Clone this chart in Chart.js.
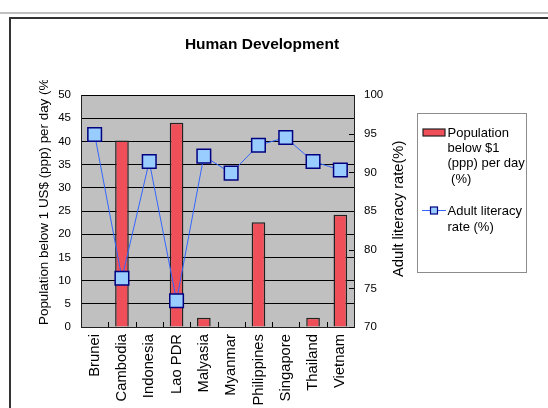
<!DOCTYPE html>
<html>
<head>
<meta charset="utf-8">
<script src="https://cdn.jsdelivr.net/npm/chart.js@4/dist/chart.umd.min.js"></script>
<style>
  html, body { margin: 0; padding: 0; background: #fff; }
  #wrap { position: relative; width: 548px; height: 408px; overflow: hidden; }
  #rule { position: absolute; left: 0; top: 12px; width: 548px; height: 2px; background: #c0c0c0; }
  #frame { position: absolute; left: 9px; top: 17px; width: 620px; height: 520px;
           border-left: 2px solid #333; border-top: 2px solid #333; }
  canvas { position: absolute; left: 0; top: 0; }
</style>
</head>
<body>
<div id="wrap">
  <div id="rule"></div>
  <div id="frame"></div>
  <canvas id="chart" width="548" height="408"></canvas>
</div>
<script>
// ASEAN countries
const countries = ['Brunei', 'Cambodia', 'Indonesia', 'Lao PDR', 'Malyasia',
                   'Myanmar', 'Philippines', 'Singapore', 'Thailand', 'Vietnam'];

// Population below $1 (ppp) per day, % (blank where not reported)
const povertyPct = [null, 40.2, null, 44.0, 2.0, null, 22.6, null, 2.0, 24.2];

// Adult literacy rate, %
const literacyPct = [94.9, 76.3, 91.4, 73.4, 92.1, 89.9, 93.5, 94.5, 91.4, 90.3];

// Axis ranges and tick steps
const leftTicks = { min: 0, max: 50, step: 5 };
const rightTicks = { min: 70, max: 100, step: 5 };

// Texts
const chartTitle = 'Human Development';
const povertyLabel = 'Population below $1 (ppp) per day (%)';
const literacyLabel = 'Adult literacy rate (%)';
const povertyLegendLines = ['Population', 'below $1', '(ppp) per day', ' (%)'];
const literacyLegendLines = ['Adult literacy', 'rate (%)'];
const leftAxisTitle = 'Population below 1 US$ (ppp) per day (%)';
const rightAxisTitle = 'Adult literacy rate(%)';

const FONT = "'Liberation Sans', Arial, sans-serif";
const BAR_RED = '#ef4f59';
const LINE_BLUE = '#3366ff';
const MARK_FILL = '#99ccff';
const MARK_EDGE = '#000080';

// Grey plotting surface behind the grid
const plotBackground = {
  id: 'plotBackground',
  beforeDraw(chart) {
    const { ctx, chartArea: a } = chart;
    ctx.save();
    ctx.fillStyle = '#c0c0c0';
    ctx.fillRect(a.left, a.top, a.right - a.left, a.bottom - a.top);
    ctx.restore();
  }
};

// Tick marks that point into the plot: category boundaries and right-axis steps
const innerTicks = {
  id: 'innerTicks',
  beforeDatasetsDraw(chart) {
    const { ctx, chartArea: a, scales } = chart;
    const x = scales.x, y2 = scales.y2;
    ctx.save();
    ctx.strokeStyle = '#000';
    ctx.lineWidth = 1;
    ctx.beginPath();
    for (let i = 1; i < x.ticks.length; i++) {
      const px = Math.round((x.getPixelForTick(i - 1) + x.getPixelForTick(i)) / 2) + 0.5;
      ctx.moveTo(px, a.bottom);
      ctx.lineTo(px, a.bottom - 5);
    }
    y2.ticks.forEach(t => {
      const py = Math.round(y2.getPixelForValue(t.value)) + 0.5;
      ctx.moveTo(a.right, py);
      ctx.lineTo(a.right - 5, py);
    });
    ctx.stroke();
    ctx.restore();
  }
};

// Title, axis titles and the boxed legend
const decorations = {
  id: 'decorations',
  afterDraw(chart) {
    const { ctx } = chart;
    ctx.save();
    ctx.fillStyle = '#000';

    // chart title
    ctx.font = 'bold 15.5px ' + FONT;
    ctx.textAlign = 'center';
    ctx.textBaseline = 'alphabetic';
    ctx.fillText(chartTitle, 262, 49);

    // left axis title (clipped at the top, as the frame cuts it)
    ctx.save();
    ctx.beginPath();
    ctx.rect(0, 80, 80, 328);
    ctx.clip();
    ctx.translate(47.5, 325);
    ctx.rotate(-Math.PI / 2);
    ctx.font = '13.4px ' + FONT;
    ctx.textAlign = 'left';
    ctx.textBaseline = 'alphabetic';
    ctx.fillText(leftAxisTitle, 0, 0);
    ctx.restore();

    // right axis title
    ctx.save();
    ctx.translate(402.5, 277);
    ctx.rotate(-Math.PI / 2);
    ctx.font = '14.7px ' + FONT;
    ctx.textAlign = 'left';
    ctx.textBaseline = 'alphabetic';
    ctx.fillText(rightAxisTitle, 0, 0);
    ctx.restore();

    // legend box
    ctx.strokeStyle = '#8c8c8c';
    ctx.lineWidth = 1;
    ctx.strokeRect(417.5, 113.5, 109, 159);

    ctx.font = '13px ' + FONT;
    ctx.textAlign = 'left';
    ctx.textBaseline = 'alphabetic';

    // bar entry
    ctx.fillStyle = BAR_RED;
    ctx.fillRect(423, 129, 22, 7);
    ctx.strokeStyle = '#222';
    ctx.lineWidth = 1.2;
    ctx.strokeRect(423, 129, 22, 7);
    ctx.fillStyle = '#000';
    povertyLegendLines.forEach((s, i) => ctx.fillText(s, 447.5, 137 + i * 15.2));

    // line entry
    ctx.strokeStyle = LINE_BLUE;
    ctx.lineWidth = 1;
    ctx.beginPath();
    ctx.moveTo(422, 210.5);
    ctx.lineTo(446, 210.5);
    ctx.stroke();
    ctx.fillStyle = MARK_FILL;
    ctx.fillRect(430.5, 207, 7, 7);
    ctx.strokeStyle = MARK_EDGE;
    ctx.lineWidth = 1.2;
    ctx.strokeRect(430.5, 207, 7, 7);
    ctx.fillStyle = '#000';
    literacyLegendLines.forEach((s, i) => ctx.fillText(s, 447.5, 215 + i * 15.6));

    ctx.restore();
  }
};

new Chart(document.getElementById('chart'), {
  type: 'bar',
  data: {
    labels: countries,
    datasets: [
      {
        type: 'line',
        label: literacyLabel,
        data: literacyPct,
        yAxisID: 'y2',
        order: 0,
        borderColor: LINE_BLUE,
        borderWidth: 1,
        tension: 0,
        fill: false,
        pointStyle: 'rect',
        pointRadius: 9.6,
        pointBackgroundColor: MARK_FILL,
        pointBorderColor: MARK_EDGE,
        pointBorderWidth: 1.5
      },
      {
        type: 'bar',
        label: povertyLabel,
        data: povertyPct,
        yAxisID: 'y',
        order: 1,
        backgroundColor: BAR_RED,
        borderColor: '#222',
        borderWidth: 1.5,
        barPercentage: 0.5,
        categoryPercentage: 1.0
      }
    ]
  },
  options: {
    responsive: false,
    animation: false,
    devicePixelRatio: 1,
    layout: { padding: { top: 95, left: 0, right: 0, bottom: 0 } },
    plugins: {
      legend: { display: false },
      title: { display: false },
      tooltip: { enabled: false }
    },
    scales: {
      x: {
        type: 'category',
        offset: true,
        grid: { display: false, drawTicks: false },
        border: { display: true, color: '#222', width: 1 },
        ticks: {
          autoSkip: false,
          minRotation: 90,
          maxRotation: 90,
          padding: 7,
          color: '#000',
          font: { family: FONT, size: 14.8 }
        },
        afterFit(s) { s.height = 81; }
      },
      y: {
        position: 'left',
        min: leftTicks.min,
        max: leftTicks.max,
        grid: { color: '#000', lineWidth: 1, drawTicks: false },
        border: { display: true, color: '#222', width: 1 },
        ticks: {
          stepSize: leftTicks.step,
          padding: 10,
          color: '#000',
          font: { family: FONT, size: 11.5 }
        },
        afterFit(s) { s.width = 81; }
      },
      y2: {
        position: 'right',
        min: rightTicks.min,
        max: rightTicks.max,
        grid: { drawOnChartArea: false, drawTicks: false },
        border: { display: true, color: '#222', width: 1 },
        ticks: {
          stepSize: rightTicks.step,
          padding: 10,
          color: '#000',
          font: { family: FONT, size: 11.5 }
        },
        afterFit(s) { s.width = 194; }
      }
    }
  },
  plugins: [plotBackground, innerTicks, decorations]
});
</script>
</body>
</html>
